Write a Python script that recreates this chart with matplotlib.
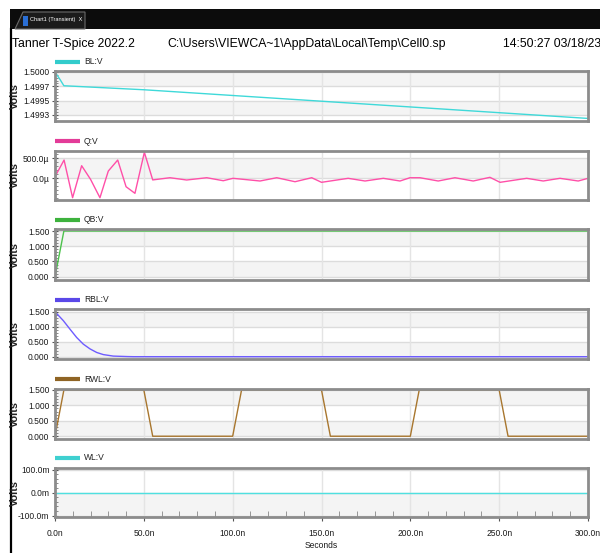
import matplotlib
matplotlib.use("Agg")
import matplotlib.pyplot as plt
from matplotlib import font_manager as fm
from matplotlib.font_manager import FontProperties
from matplotlib.ticker import FixedLocator, MultipleLocator
from matplotlib.lines import Line2D
import matplotlib.patches as mpatches


def has_font(name):
    try:
        fm.findfont(FontProperties(family=name), fallback_to_default=False)
        return True
    except Exception:
        return False


if has_font("Liberation Sans Narrow"):
    NARROW, K = "Liberation Sans Narrow", 1.0
else:
    NARROW, K = "Liberation Sans", 0.82
REG = "Liberation Sans"

# ---------------- data ----------------
time_ticks = [0, 50, 100, 150, 200, 250, 300]
time_labels = ["0.0n", "50.0n", "100.0n", "150.0n", "200.0n", "250.0n", "300.0n"]

bl_t = [0, 2.8, 5, 50, 100, 150, 200, 250, 300]
bl_v = [1.5, 1.49987, 1.49976, 1.49969, 1.49959, 1.49949, 1.49939, 1.49929, 1.49919]

q_t = [0, 5.1, 9.9, 15, 20, 25.3, 30, 35.3, 40, 45, 50.3, 55, 64.7, 74.1, 85.4, 94.7,
       100.2, 115.4, 124.8, 135.1, 144.5, 150, 165, 174.5, 184.8, 194.2, 199.8, 205.4,
       215.7, 225.1, 235.4, 244.8, 250.5, 265.5, 274.8, 284.2, 294.5, 300]
q_uv = [40, 457, -485, 315, -25, -485, 182, 457, -210, -375, 650, -40, 15, -42, 15, -60,
        0, -67, 15, -85, 15, -100, 0, -67, 0, -67, 15, 15,
        -67, 15, -67, 25, -100, 0, -67, 0, -67, 0]

qb_t = [0, 5, 300]
qb_v = [0, 1.5, 1.5]

rbl_t = [0, 4.7, 8.4, 12.2, 15.9, 19.7, 23.5, 27.2, 32.8, 40.4, 44, 300]
rbl_v = [1.5, 1.2, 0.92, 0.64, 0.42, 0.26, 0.14, 0.07, 0.02, 0.005, 0, 0]

rwl_t = [0, 5, 50, 55, 100, 105, 150, 155, 200, 205, 250, 255, 300]
rwl_v = [0, 1.5, 1.5, 0, 0, 1.5, 1.5, 0, 0, 1.5, 1.5, 0, 0]

wl_t = [0, 300]
wl_v = [0, 0]

bl_ticks = [1.49925, 1.4995, 1.49975, 1.5]
bl_labels = ["1.4993", "1.4995", "1.4997", "1.5000"]
q_ticks = [0, 500e-6]
q_labels = ["0.0\u00b5", "500.0\u00b5"]
v_ticks = [0, 0.5, 1.0, 1.5]
v_labels = ["0.000", "0.500", "1.000", "1.500"]
wl_ticks = [-0.1, 0, 0.1]
wl_labels = ["-100.0m", "0.0m", "100.0m"]

# ---------------- layout ----------------
W, H = 600, 553
fig = plt.figure(figsize=(W / 100, H / 100), dpi=100)
fig.patch.set_facecolor("white")


def fx(x):
    return x / W


def fy(y):
    return 1 - y / H


# window chrome
fig.add_artist(mpatches.Rectangle((fx(10), fy(29)), fx(590), 20 / H,
                                  transform=fig.transFigure, facecolor="#0c0c0c",
                                  edgecolor="none", zorder=0))
tab = mpatches.Polygon([(fx(15), fy(29)), (fx(23), fy(12)), (fx(85), fy(12)), (fx(85), fy(29))],
                       closed=True, transform=fig.transFigure, facecolor="#1b1b1b",
                       edgecolor="#6a6a6a", lw=0.8, zorder=1)
fig.add_artist(tab)
fig.add_artist(mpatches.Rectangle((fx(23), fy(26)), 5 / W, 10 / H, transform=fig.transFigure,
                                  facecolor="#2a6fd6", edgecolor="none", zorder=2))
fig.text(fx(30), fy(19.5), "Chart1 (Transient)  X", color="white", fontsize=5.0 * K,
         family=NARROW, va="center", ha="left")
fig.add_artist(Line2D([fx(10.5), fx(10.5)], [fy(29), fy(553)], transform=fig.transFigure,
                      color="black", lw=1.6))

# header texts
fig.text(fx(12), fy(44), "Tanner T-Spice 2022.2", fontsize=10.8 * K, family=NARROW,
         va="center", ha="left", color="black")
fig.text(fx(167), fy(44), "C:\\Users\\VIEWCA~1\\AppData\\Local\\Temp\\Cell0.sp",
         fontsize=10.8 * K, family=NARROW, va="center", ha="left", color="black")
fig.text(fx(503), fy(44), "14:50:27 03/18/23", fontsize=10.8 * K, family=NARROW,
         va="center", ha="left", color="black")

panels = [
    dict(name="BL:V", t=bl_t, v=bl_v, color="#3fd9d9", lc="#33cccc", box=(71, 121),
         ylim=(1.499145, 1.500017), ticks=bl_ticks, labels=bl_labels, legy=62),
    dict(name="Q:V", t=q_t, v=[u * 1e-6 for u in q_uv], color="#ff4fa8", lc="#e33c98",
         box=(151, 200), ylim=(-542e-6, 683e-6), ticks=q_ticks, labels=q_labels, legy=141),
    dict(name="QB:V", t=qb_t, v=qb_v, color="#4cc24c", lc="#3db23d", box=(229, 280),
         ylim=(-0.108, 1.566), ticks=v_ticks, labels=v_labels, legy=220),
    dict(name="RBL:V", t=rbl_t, v=rbl_v, color="#6e5cff", lc="#5a48e8", box=(309, 359),
         ylim=(-0.077, 1.59), ticks=v_ticks, labels=v_labels, legy=300),
    dict(name="RWL:V", t=rwl_t, v=rwl_v, color="#a8762e", lc="#8f6424", box=(389, 439),
         ylim=(-0.09, 1.532), ticks=v_ticks, labels=v_labels, legy=379),
    dict(name="WL:V", t=wl_t, v=wl_v, color="#4fe0e0", lc="#3fd0d0", box=(468, 517),
         ylim=(-0.1057, 0.1074), ticks=wl_ticks, labels=wl_labels, legy=458),
]

LS = 7.5 * K
L, R = 55, 588
for i, p in enumerate(panels):
    top, bot = p["box"]
    ax = fig.add_axes([fx(L), fy(bot), (R - L) / W, (bot - top) / H])
    ax.set_facecolor("white")
    ax.set_xlim(0, 300)
    ax.set_ylim(*p["ylim"])
    tk = p["ticks"]
    for j in range(len(tk) - 1):
        if j % 2 == 0:
            ax.axhspan(tk[j], tk[j + 1], color="#f4f4f4", lw=0, zorder=0)
    for y in tk:
        ax.axhline(y, color="#dcdcdc", lw=1.0, zorder=1)
    for x in time_ticks[1:-1]:
        ax.axvline(x, color="#e4e4e4", lw=1.0, zorder=1)
    ax.plot(p["t"], p["v"], color=p["color"], lw=1.0, zorder=3, clip_on=True)

    ax.yaxis.set_major_locator(FixedLocator(tk))
    ax.set_yticklabels(p["labels"])
    step = tk[1] - tk[0]
    ax.yaxis.set_minor_locator(MultipleLocator(step / 5))
    ax.tick_params(axis="y", which="major", direction="inout", length=5, width=0.8,
                   color="#555555", pad=1.5, labelsize=LS, labelcolor="#1a1a1a")
    ax.tick_params(axis="y", which="minor", direction="in", length=2.5, width=0.6,
                   color="#777777")
    for lab in ax.get_yticklabels():
        lab.set_family(NARROW)

    ax.xaxis.set_major_locator(FixedLocator(time_ticks))
    if i == len(panels) - 1:
        ax.set_xticklabels(time_labels)
        ax.xaxis.set_minor_locator(MultipleLocator(10))
        ax.tick_params(axis="x", which="major", direction="out", length=3, width=0.8,
                       color="#555555", pad=6, labelsize=LS, labelcolor="#1a1a1a")
        ax.tick_params(axis="x", which="minor", direction="in", length=4, width=0.6,
                       color="#888888")
        for lab in ax.get_xticklabels():
            lab.set_family(NARROW)
        ax.set_xlabel("Seconds", fontsize=LS, family=NARROW, labelpad=2, color="#1a1a1a")
    else:
        ax.tick_params(axis="x", which="both", length=0, labelbottom=False)

    for s in ax.spines.values():
        s.set_color("#8c8c8c")
        s.set_linewidth(2.0)
        s.set_zorder(5)

    # "Volts" label
    fig.text(fx(15), fy((top + bot) / 2), "Volts", rotation=90, fontsize=7.8,
             family=REG, va="center", ha="center", color="#222222", weight="bold")
    # legend swatch + name
    fig.add_artist(Line2D([fx(55), fx(80)], [fy(p["legy"]), fy(p["legy"])],
                          transform=fig.transFigure, color=p["lc"], lw=3,
                          solid_capstyle="butt"))
    fig.text(fx(84), fy(p["legy"]), p["name"], fontsize=LS, family=NARROW,
             va="center", ha="left", color="#222222")

fig.savefig("out.png", dpi=100)
